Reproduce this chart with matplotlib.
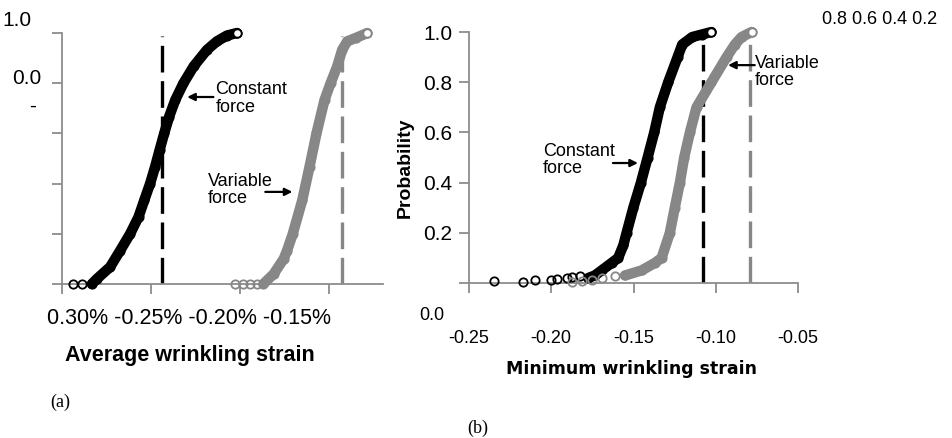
import matplotlib
matplotlib.use("Agg")
import matplotlib.pyplot as plt
import numpy as np

plt.rcParams['font.family'] = ['Liberation Sans', 'DejaVu Sans']

# ---------- (a) average wrinkling strain, in % ----------
a_const_tail_x = [-0.2938, -0.2888]
a_const_tail_p = [0.0, 0.0]
a_const_x = [-0.2833, -0.2805, -0.2730, -0.2674, -0.2618, -0.2571, -0.2539, -0.2506,
             -0.2478, -0.2453, -0.2427, -0.2399, -0.2365, -0.2319, -0.2262, -0.2187,
             -0.2131, -0.2075, -0.2019]
a_const_p = [0.0, 0.02, 0.068, 0.133, 0.2, 0.267, 0.333, 0.4,
             0.467, 0.533, 0.6, 0.667, 0.733, 0.8, 0.867, 0.933,
             0.967, 0.99, 1.0]
a_var_tail_x = [-0.2028, -0.1983, -0.1944, -0.1904]
a_var_tail_p = [0.0, 0.0, 0.0, 0.0]
a_var_x = [-0.1871, -0.1813, -0.1757, -0.1738, -0.1706, -0.1653, -0.1612, -0.1573,
           -0.1528, -0.1494, -0.1457, -0.1429, -0.1400, -0.1354, -0.1288]
a_var_p = [0.0, 0.04, 0.1, 0.133, 0.2, 0.333, 0.467, 0.6,
           0.733, 0.8, 0.867, 0.933, 0.967, 0.98, 1.0]
a_const_mean = -0.244
a_var_mean = -0.143
a_xticks = [-0.30, -0.25, -0.20, -0.15]
a_yticks = [0.0, 0.2, 0.4, 0.6, 0.8, 1.0]

# ---------- (b) minimum wrinkling strain ----------
b_const_tail_x = [-0.2346, -0.217, -0.210, -0.200, -0.1967, -0.1907, -0.1876, -0.1826]
b_const_tail_p = [0.007, 0.004, 0.011, 0.011, 0.017, 0.02, 0.024, 0.027]
b_const_x = [-0.1775, -0.1735, -0.1694, -0.1633, -0.1593, -0.1562, -0.1542, -0.1501,
             -0.1455, -0.1414, -0.1374, -0.1340, -0.1289, -0.1232, -0.1204, -0.1143,
             -0.1085, -0.1026]
b_const_p = [0.02, 0.03, 0.05, 0.08, 0.1, 0.15, 0.2, 0.3,
             0.4, 0.5, 0.6, 0.7, 0.8, 0.9, 0.95, 0.98,
             0.99, 1.0]
b_var_tail_x = [-0.1876, -0.1815, -0.1755, -0.1694, -0.1613]
b_var_tail_p = [0.004, 0.008, 0.013, 0.021, 0.027]
b_var_x = [-0.1552, -0.1451, -0.1370, -0.1329, -0.1279, -0.1249, -0.1218, -0.1192,
           -0.1157, -0.1117, -0.1026, -0.0934, -0.0884, -0.0843, -0.0782]
b_var_p = [0.03, 0.05, 0.08, 0.1, 0.2, 0.3, 0.4, 0.5,
           0.6, 0.7, 0.8, 0.9, 0.95, 0.98, 1.0]
b_const_mean = -0.1077
b_var_mean = -0.0789
b_xticks = [-0.25, -0.20, -0.15, -0.10, -0.05]
b_xlabels = ["-0.25", "-0.20", "-0.15", "-0.10", "-0.05"]
b_yticks = [0.0, 0.2, 0.4, 0.6, 0.8, 1.0]
b_ylabels = ["", "0.2", "0.4", "0.6", "0.8", "1.0"]

BLACK = "#000000"
GRAY = "#878787"
AXIS = "#8c8c8c"

W, H = 953, 438
fig = plt.figure(figsize=(W / 100, H / 100), dpi=100)


def fx(px):
    return px / W


def fy(py):
    return 1 - py / H


def style_axes(ax):
    for s in ["top", "right"]:
        ax.spines[s].set_visible(False)
    for s in ["left", "bottom"]:
        ax.spines[s].set_color(AXIS)
        ax.spines[s].set_linewidth(1.3)
    ax.tick_params(colors=AXIS, length=7, width=1.3)


def draw_cdf(ax, tx, tp, x, p, color):
    ax.plot(tx, tp, linestyle="none", marker="o", markersize=6, mfc="none",
            mec=color, mew=1.3, clip_on=False, zorder=3)
    ax.plot(x, p, color=color, lw=7.5, solid_capstyle="round", marker="o",
            markersize=6, mfc="none", mec=color, mew=1.3, clip_on=False, zorder=3)
    ax.plot(x[-1:], p[-1:], linestyle="none", marker="o", markersize=6, mfc="white",
            mec=color, mew=1.3, clip_on=False, zorder=4)


arrow = dict(arrowstyle="-|>", color="black", lw=1.6, mutation_scale=11, shrinkA=0, shrinkB=0)

# ---------- panel (a) ----------
ax1 = fig.add_axes([fx(62), fy(284), fx(383 - 62), (284 - 33) / H])
style_axes(ax1)
ax1.axvline(a_const_mean, ymin=0, ymax=0.99, color=BLACK, lw=2.4, dashes=(8, 2.6), zorder=2)
ax1.axvline(a_var_mean, ymin=0, ymax=0.99, color=GRAY, lw=2.4, dashes=(8, 2.6), zorder=2)
draw_cdf(ax1, a_const_tail_x, a_const_tail_p, a_const_x, a_const_p, BLACK)
draw_cdf(ax1, a_var_tail_x, a_var_tail_p, a_var_x, a_var_p, GRAY)
ax1.set_xlim(-0.30, -0.12)
ax1.set_ylim(0, 1)
ax1.set_xticks(a_xticks)
ax1.set_yticks(a_yticks)
ax1.set_xticklabels([])
ax1.set_yticklabels([])
ax1.text(-0.214, 0.74, "Constant\nforce", fontsize=13, ha="left", va="center", linespacing=1.05)
ax1.annotate("", xy=(-0.2298, 0.745), xytext=(-0.2151, 0.745), arrowprops=arrow)
ax1.text(-0.218, 0.375, "Variable\nforce", fontsize=13, ha="left", va="center", linespacing=1.05)
ax1.annotate("", xy=(-0.1708, 0.367), xytext=(-0.1860, 0.367), arrowprops=arrow)

fig.text(fx(2), fy(21), "1.0", fontsize=15, ha="left", va="center")
fig.text(fx(12), fy(79), "0.0", fontsize=15, ha="left", va="center")
fig.text(fx(33), fy(106), "-", fontsize=15, ha="center", va="center")
fig.text(fx(47), fy(318), "0.30% -0.25% -0.20% -0.15%", fontsize=15.5, ha="left", va="center")
fig.text(fx(190), fy(356), "Average wrinkling strain", fontsize=15.5, fontweight="bold",
         ha="center", va="center")
fig.text(fx(50), fy(402), "(a)", fontsize=13, family="Liberation Serif", ha="left", va="center")

# ---------- panel (b) ----------
ax2 = fig.add_axes([fx(469), fy(283), fx(798 - 469), (283 - 32) / H])
style_axes(ax2)
ax2.axvline(b_const_mean, ymin=0, ymax=0.99, color=BLACK, lw=2.4, dashes=(8, 2.6), zorder=2)
ax2.axvline(b_var_mean, ymin=0, ymax=0.99, color=GRAY, lw=2.4, dashes=(8, 2.6), zorder=2)
draw_cdf(ax2, b_const_tail_x, b_const_tail_p, b_const_x, b_const_p, BLACK)
draw_cdf(ax2, b_var_tail_x, b_var_tail_p, b_var_x, b_var_p, GRAY)
ax2.set_xlim(-0.25, -0.05)
ax2.set_ylim(0, 1)
ax2.set_xticks(b_xticks)
ax2.set_xticklabels(b_xlabels, fontsize=13, color="black")
ax2.set_yticks(b_yticks)
ax2.set_yticklabels(b_ylabels, fontsize=15, color="black")
ax2.tick_params(axis="x", pad=27, labelcolor="black")
ax2.tick_params(axis="y", pad=5, labelcolor="black")
ax2.text(-0.2050, 0.49, "Constant\nforce", fontsize=13, ha="left", va="center", linespacing=1.05)
ax2.annotate("", xy=(-0.1473, 0.478), xytext=(-0.1625, 0.478), arrowprops=arrow)
ax2.text(-0.0763, 0.84, "Variable\nforce", fontsize=13, ha="left", va="center", linespacing=1.05)
ax2.annotate("", xy=(-0.0925, 0.868), xytext=(-0.0763, 0.868), arrowprops=arrow)

fig.text(fx(405), fy(168), "Probability", fontsize=14, fontweight="bold", rotation=90,
         ha="center", va="center")
fig.text(fx(419), fy(315), "0.0", fontsize=13, ha="left", va="center")
fig.text(fx(822), fy(20), "0.8 0.6 0.4 0.2", fontsize=13, ha="left", va="center")
fig.text(fx(632), fy(369), "Minimum wrinkling strain", fontsize=12.5, fontweight="bold",
         family="DejaVu Sans", ha="center", va="center")
fig.text(fx(467), fy(428), "(b)", fontsize=13, family="Liberation Serif", ha="left", va="center")

fig.savefig("out.png", dpi=100)
